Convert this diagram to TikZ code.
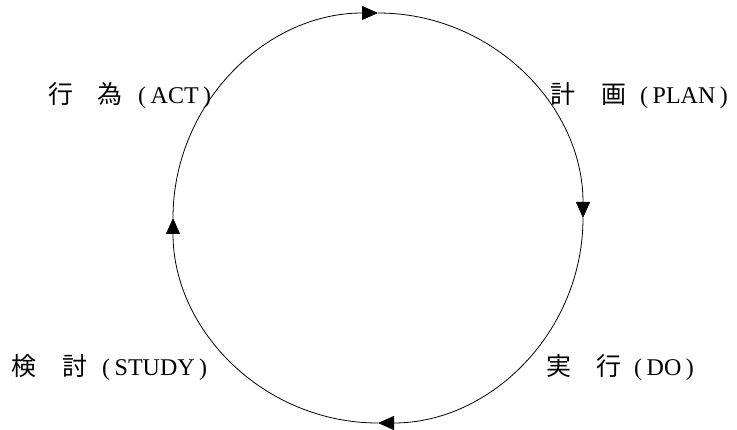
\documentclass[tikz,border=0pt]{standalone}
\usepackage{fontspec}
\setmainfont{Liberation Serif}
\newfontfamily\cjk{Noto Sans CJK JP}
\usetikzlibrary{arrows.meta}
\begin{document}
\begin{tikzpicture}[x=1pt,y=1pt,
  cjkl/.style={anchor=base west, inner sep=0pt, font=\cjk\fontsize{25}{25}\selectfont},
  latl/.style={anchor=base west, inner sep=0pt, font=\fontsize{24}{24}\selectfont},
  ring/.style={line width=0.8pt, -{Triangle[length=16pt,width=14pt]}}]
\useasboundingbox (0,0) rectangle (737,429);
% circle quadrant points
\coordinate (T) at (378,416);
\coordinate (R) at (583,211);
\coordinate (B) at (378,6);
\coordinate (L) at (173,211);
\draw[ring] (L) arc[start angle=180,end angle=90,radius=205];
\draw[ring] (T) arc[start angle=90,end angle=0,radius=205];
\draw[ring] (R) arc[start angle=0,end angle=-90,radius=205];
\draw[ring] (B) arc[start angle=-90,end angle=-180,radius=205];
% ACT
\node[cjkl] (act1) at (48,325) {行};
\node[cjkl] (act2) at (97,325) {為};
\node[latl] (act3) at (138,325) {(\hspace{4.5pt}ACT\hspace{4.5pt})};
% PLAN
\node[cjkl] (plan1) at (550,325) {計};
\node[cjkl] (plan2) at (601,325) {画};
\node[latl] (plan3) at (640,325) {(\hspace{4.5pt}PLAN\hspace{4.5pt})};
% STUDY
\node[cjkl] (study1) at (11,54) {検};
\node[cjkl] (study2) at (62,54) {討};
\node[latl] (study3) at (102,54) {(\hspace{4.5pt}STUDY\hspace{4.5pt})};
% DO
\node[cjkl] (do1) at (546,54) {実};
\node[cjkl] (do2) at (596,54) {行};
\node[latl] (do3) at (634,54) {(\hspace{4.5pt}DO\hspace{4.5pt})};
\end{tikzpicture}
\end{document}
